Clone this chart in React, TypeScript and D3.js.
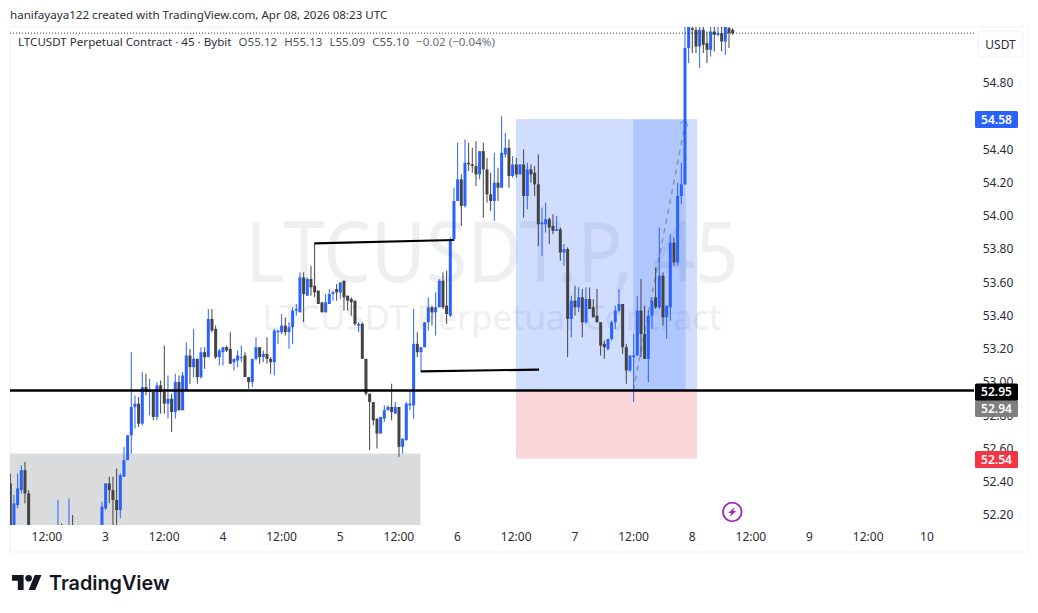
import { useRef, useEffect } from 'react'
import * as d3 from 'd3'

// 45 minute bars, one entry per bar
const opens = [
  52.39,52.08,52.26,52.35,52.47,52.33,52.10,52.02,52.05,51.99,
  52.03,52.00,52.06,52.04,52.10,52.05,52.08,52.11,52.04,52.00,
  52.05,52.02,51.98,52.03,52.07,52.05,52.24,52.39,52.35,52.29,
  52.23,52.43,52.53,52.68,52.85,52.87,52.75,52.97,52.94,52.94,
  52.79,52.98,52.94,52.87,52.90,52.82,53.00,52.83,52.95,53.16,
  53.09,53.14,53.03,53.18,53.15,53.38,53.32,53.15,53.18,53.21,
  53.20,53.12,53.13,53.15,53.16,53.03,53.00,53.14,53.21,53.15,
  53.17,53.14,53.12,53.30,53.30,53.34,53.30,53.33,53.43,53.42,
  53.63,53.52,53.62,53.58,53.55,53.48,53.42,53.47,53.53,53.56,
  53.54,53.61,53.52,53.50,53.49,53.34,53.35,53.14,52.93,52.88,
  52.78,52.69,52.78,52.83,52.85,52.81,52.85,52.61,52.65,52.86,
  52.86,53.23,53.18,53.21,53.36,53.45,53.42,53.45,53.61,53.46,
  53.40,53.86,54.09,54.22,54.06,54.32,54.31,54.30,54.25,54.39,
  54.28,54.13,54.09,54.20,54.17,54.37,54.41,54.24,54.31,54.25,
  54.31,54.12,54.28,54.26,54.19,53.95,53.95,53.98,53.94,53.91,
  53.92,53.78,53.80,53.38,53.49,53.45,53.51,53.36,53.50,53.45,
  53.40,53.36,53.23,53.20,53.26,53.36,53.43,53.47,53.21,53.07,
  53.15,53.16,53.43,53.29,53.14,53.40,53.51,53.45,53.64,53.39,
  53.45,53.84,53.72,54.12,54.19,55.01,55.13,55.12,55.02,55.12,
  55.04,55.00,55.11,55.09,55.10,55.05,55.13,55.12,
]
const highs = [
  52.45,52.32,52.45,52.50,52.52,52.35,52.12,52.08,52.10,52.06,
  52.09,52.10,52.12,52.29,52.15,52.11,52.30,52.20,52.09,52.08,
  52.11,52.07,52.05,52.10,52.12,52.28,52.39,52.43,52.43,52.48,
  52.45,52.61,52.68,53.18,52.92,52.91,53.06,53.05,53.02,52.95,
  53.00,53.01,53.22,53.04,52.93,53.05,53.04,53.06,53.24,53.20,
  53.32,53.14,53.21,53.21,53.44,53.44,53.34,53.20,53.21,53.22,
  53.30,53.14,53.19,53.22,53.18,53.03,53.14,53.27,53.21,53.19,
  53.27,53.15,53.32,53.31,53.41,53.39,53.36,53.45,53.47,53.66,
  53.66,53.63,53.70,53.84,53.55,53.48,53.53,53.56,53.55,53.59,
  53.60,53.61,53.52,53.51,53.49,53.36,53.36,53.14,52.93,52.88,
  52.78,52.79,52.86,52.86,52.99,52.88,52.85,52.66,52.88,52.95,
  53.44,53.30,53.21,53.36,53.51,53.46,53.54,53.62,53.66,53.67,
  53.87,54.17,54.44,54.25,54.46,54.44,54.41,54.45,54.39,54.44,
  54.35,54.26,54.38,54.29,54.60,54.50,54.46,54.36,54.35,54.31,
  54.40,54.32,54.31,54.30,54.37,54.05,54.08,53.99,54.01,54.00,
  53.93,53.83,53.81,53.52,53.58,53.57,53.56,53.57,53.57,53.50,
  53.56,53.36,53.25,53.26,53.37,53.46,53.56,53.47,53.23,53.16,
  53.29,53.52,53.62,53.46,53.43,53.51,53.69,53.93,53.66,53.46,
  53.89,53.87,54.20,54.32,55.14,55.16,55.16,55.16,55.15,55.14,
  55.11,55.14,55.14,55.14,55.14,55.15,55.14,55.13,
]
const lows = [
  52.02,52.02,52.24,52.33,52.27,52.00,51.98,51.95,51.96,51.92,
  51.97,51.94,52.00,52.00,52.00,52.00,52.03,51.98,51.96,51.95,
  52.00,51.94,51.92,51.99,52.02,52.03,52.23,52.27,52.13,52.12,
  52.18,52.43,52.53,52.57,52.72,52.73,52.74,52.92,52.80,52.77,
  52.77,52.81,52.81,52.78,52.70,52.78,52.83,52.83,52.95,52.99,
  53.03,52.99,53.02,53.08,53.15,53.30,53.14,53.10,53.10,53.18,
  53.11,53.07,53.09,53.12,53.03,52.96,52.97,53.13,53.11,53.12,
  53.11,53.05,53.04,53.23,53.29,53.28,53.20,53.23,53.40,53.42,
  53.36,53.52,53.52,53.51,53.47,53.42,53.42,53.47,53.49,53.49,
  53.50,53.43,53.43,53.40,53.34,53.30,53.14,52.92,52.59,52.74,
  52.60,52.69,52.76,52.83,52.77,52.81,52.55,52.57,52.65,52.83,
  52.78,53.15,53.06,53.21,53.31,53.34,53.28,53.45,53.44,53.35,
  53.39,53.85,54.09,53.94,54.05,54.27,54.26,54.18,54.22,53.99,
  54.08,54.03,53.97,54.09,54.17,54.35,54.17,54.23,54.23,54.25,
  53.99,54.04,54.20,54.12,53.82,53.76,53.90,53.83,53.89,53.91,
  53.73,53.70,53.15,53.27,53.40,53.42,53.27,53.35,53.44,53.39,
  53.36,53.16,53.14,53.19,53.25,53.32,53.42,53.17,52.99,53.06,
  52.88,53.16,53.15,53.14,53.00,53.32,53.44,53.44,53.34,53.26,
  53.37,53.70,53.70,54.07,54.19,54.92,54.98,54.98,54.89,54.98,
  54.92,54.96,54.99,55.08,54.99,54.97,55.01,55.09,
]
const closes = [
  52.08,52.27,52.36,52.47,52.33,52.10,52.02,52.05,51.99,52.03,
  52.00,52.06,52.04,52.10,52.05,52.08,52.11,52.04,52.00,52.05,
  52.02,51.98,52.03,52.07,52.05,52.25,52.39,52.35,52.29,52.23,
  52.44,52.53,52.68,52.85,52.87,52.75,52.97,52.94,52.95,52.79,
  52.98,52.94,52.87,52.90,52.82,53.00,52.83,53.04,53.16,53.09,
  53.14,53.03,53.18,53.15,53.38,53.31,53.15,53.19,53.21,53.19,
  53.11,53.14,53.16,53.15,53.03,53.00,53.14,53.21,53.15,53.17,
  53.14,53.12,53.31,53.31,53.34,53.30,53.33,53.43,53.44,53.63,
  53.53,53.62,53.57,53.54,53.47,53.42,53.48,53.53,53.54,53.54,
  53.60,53.51,53.49,53.48,53.35,53.35,53.14,52.93,52.88,52.77,
  52.69,52.79,52.83,52.85,52.82,52.85,52.61,52.66,52.87,52.87,
  53.23,53.18,53.21,53.36,53.45,53.42,53.45,53.61,53.45,53.41,
  53.86,54.09,54.22,54.06,54.32,54.31,54.30,54.25,54.39,54.28,
  54.13,54.09,54.20,54.17,54.38,54.41,54.24,54.31,54.25,54.31,
  54.12,54.28,54.25,54.19,53.95,53.96,53.98,53.93,53.91,53.92,
  53.78,53.80,53.38,53.49,53.45,53.51,53.36,53.50,53.44,53.39,
  53.36,53.22,53.21,53.26,53.36,53.43,53.47,53.21,53.07,53.16,
  53.16,53.43,53.29,53.14,53.40,53.49,53.45,53.64,53.39,53.46,
  53.84,53.72,54.12,54.19,55.01,55.14,55.12,55.02,55.12,55.03,
  55.00,55.11,55.09,55.10,55.05,55.14,55.10,55.10,
]

const priceTicks = [52.2, 52.4, 52.6, 52.8, 53.0, 53.2, 53.4, 53.6, 53.8, 54.0, 54.2, 54.4, 54.6, 54.8]
const timeTickBars = [10, 26, 42, 58, 74, 90, 106, 122, 138, 154, 170, 186, 202, 218, 234, 250]
const timeTickLabels = ['12:00', '3', '12:00', '4', '12:00', '5', '12:00', '6', '12:00', '7', '12:00', '8', '12:00', '9', '12:00', '10']

const LAST_PRICE = 55.1
const SUPPORT_PRICE = 52.95
const ZONE_TOP = 52.57
const ZONE_END_BAR = 111.9
const TREND_A = [[83, 53.835], [121, 53.855]]
const TREND_B = [[112, 53.065], [144.2, 53.075]]
const POSITION = { start: 137.9, end: 187.3, entry: 52.95, target: 54.58, stop: 52.54, fillStart: 169.9, fillEnd: 184.2 }
const PRICE_TAGS = [
  { label: '54.58', price: 54.58, bg: '#2962ff', shift: 0 },
  { label: '52.54', price: 52.54, bg: '#f23645', shift: 1 },
  { label: '52.94', price: 52.94, bg: '#808080', shift: 16.5 },
  { label: '52.95', price: 52.95, bg: '#000000', shift: 1.5 },
]

const W = 1038
const H = 613
const PANE = { left: 10, right: 974, top: 27, bottom: 525 }
const BLUE = '#2962ff'
const DARK = '#434343'
const TEXT = '#2a2e39'
const FONT = "'Noto Sans', sans-serif"

export default function App() {
  const svgRef = useRef<SVGSVGElement>(null)

  useEffect(() => {
    const svg = svgRef.current
    if (!svg) return
    const sel = d3.select(svg)
    sel.selectAll('*').remove()

    const x = d3.scaleLinear().domain([0, 197]).range([10.3, 10.3 + 197 * 3.6667])
    const y = d3.scaleLinear().domain([52.2, 54.8]).range([515, 83])

    sel.append('defs').append('clipPath').attr('id', 'pane-clip')
      .append('rect')
      .attr('x', PANE.left).attr('y', PANE.top)
      .attr('width', PANE.right - PANE.left).attr('height', PANE.bottom - PANE.top)

    // outer frame
    sel.append('rect')
      .attr('x', 10).attr('y', 27).attr('width', 1018).attr('height', 525)
      .attr('fill', '#fff').attr('stroke', '#f0f1f3').attr('stroke-width', 1)

    sel.append('text')
      .attr('x', 10).attr('y', 19)
      .attr('fill', TEXT).attr('font-size', 11.6).attr('font-family', FONT)
      .text('hanifayaya122 created with TradingView.com, Apr 08, 2026 08:23 UTC')

    // watermark
    sel.append('text')
      .attr('x', 492).attr('y', 282).attr('text-anchor', 'middle')
      .attr('textLength', 493).attr('lengthAdjust', 'spacingAndGlyphs')
      .attr('fill', '#eeeff1').attr('font-size', 84).attr('font-family', FONT)
      .text('LTCUSDT.P, 45')
    sel.append('text')
      .attr('x', 492).attr('y', 330).attr('text-anchor', 'middle')
      .attr('fill', '#eeeff1').attr('font-size', 34.5).attr('font-family', FONT)
      .text('LTCUSDT Perpetual Contract')

    const pane = sel.append('g').attr('clip-path', 'url(#pane-clip)')

    // demand zone
    pane.append('rect')
      .attr('x', PANE.left).attr('y', y(ZONE_TOP))
      .attr('width', x(ZONE_END_BAR) - PANE.left).attr('height', PANE.bottom - y(ZONE_TOP))
      .attr('fill', '#dadbdd')

    // long position tool
    const boxW = x(POSITION.end) - x(POSITION.start)
    pane.append('rect')
      .attr('x', x(POSITION.start)).attr('y', y(POSITION.target))
      .attr('width', boxW).attr('height', y(POSITION.entry) - y(POSITION.target))
      .attr('fill', BLUE).attr('fill-opacity', 0.22)
    pane.append('rect')
      .attr('x', x(POSITION.start)).attr('y', y(POSITION.entry))
      .attr('width', boxW).attr('height', y(POSITION.stop) - y(POSITION.entry))
      .attr('fill', '#f23645').attr('fill-opacity', 0.2)
    pane.append('rect')
      .attr('x', x(POSITION.fillStart)).attr('y', y(POSITION.target))
      .attr('width', x(POSITION.fillEnd) - x(POSITION.fillStart)).attr('height', y(POSITION.entry) - y(POSITION.target))
      .attr('fill', BLUE).attr('fill-opacity', 0.18)
    pane.append('line')
      .attr('x1', x(POSITION.start)).attr('x2', x(POSITION.end))
      .attr('y1', y(POSITION.target)).attr('y2', y(POSITION.target))
      .attr('stroke', BLUE).attr('stroke-opacity', 0.12)

    const px1 = x(POSITION.fillStart)
    const py1 = y(POSITION.entry)
    const px2 = x(POSITION.fillEnd)
    const py2 = y(POSITION.target - 0.01)
    pane.append('line')
      .attr('x1', px1).attr('y1', py1).attr('x2', px2).attr('y2', py2)
      .attr('stroke', '#8a8f9c').attr('stroke-width', 1.4).attr('stroke-dasharray', '5,5')
    pane.append('path')
      .attr('d', `M${px2 - 6},${py2 + 2}L${px2},${py2}L${px2 + 2},${py2 + 5}`)
      .attr('fill', 'none').attr('stroke', '#8a8f9c').attr('stroke-width', 1.2)

    // candles
    const bars = opens.map((o, i) => ({ i, o, h: highs[i], l: lows[i], c: closes[i] }))
    const candle = pane.append('g').selectAll('g').data(bars).join('g')
    candle.append('line')
      .attr('x1', (d) => x(d.i)).attr('x2', (d) => x(d.i))
      .attr('y1', (d) => y(d.h)).attr('y2', (d) => y(d.l))
      .attr('stroke', (d) => (d.c >= d.o ? BLUE : DARK)).attr('stroke-width', 1)
    candle.append('rect')
      .attr('x', (d) => x(d.i) - 1.5).attr('width', 3)
      .attr('y', (d) => y(Math.max(d.o, d.c)))
      .attr('height', (d) => Math.max(1, Math.abs(y(d.o) - y(d.c))))
      .attr('fill', (d) => (d.c >= d.o ? BLUE : DARK))

    // hand drawn levels
    pane.append('line')
      .attr('x1', PANE.left).attr('x2', PANE.right)
      .attr('y1', y(SUPPORT_PRICE)).attr('y2', y(SUPPORT_PRICE))
      .attr('stroke', '#000').attr('stroke-width', 2.5)
    const trend = d3.line<number[]>().x((d) => x(d[0])).y((d) => y(d[1]))
    pane.append('path').attr('d', trend(TREND_A)).attr('stroke', '#000').attr('stroke-width', 2.2).attr('fill', 'none')
    pane.append('path').attr('d', trend(TREND_B)).attr('stroke', '#000').attr('stroke-width', 2.2).attr('fill', 'none')

    // last price line
    pane.append('line')
      .attr('x1', PANE.left).attr('x2', PANE.right)
      .attr('y1', y(LAST_PRICE)).attr('y2', y(LAST_PRICE))
      .attr('stroke', '#333').attr('stroke-width', 1).attr('stroke-dasharray', '1,2')

    // header row
    const header = sel.append('text')
      .attr('x', 18).attr('y', 45.5)
      .attr('font-size', 11.6).attr('font-family', FONT).attr('fill', TEXT)
    header.append('tspan').text('LTCUSDT Perpetual Contract · 45 · Bybit')
    ;['O55.12', 'H55.13', 'L55.09', 'C55.10', '−0.02 (−0.04%)'].forEach((t, i) => {
      header.append('tspan')
        .attr('dx', 7)
        .attr('fill', i === 4 ? '#6a6d78' : '#50535e')
        .text(t)
    })

    // price axis
    const yAxis = d3.axisRight(y).tickValues(priceTicks).tickFormat((d) => d3.format('.2f')(d as number)).tickSize(0).tickPadding(0)
    const yG = sel.append('g').attr('transform', 'translate(998,0)').call(yAxis)
    yG.select('.domain').remove()
    yG.selectAll('.tick text')
      .attr('text-anchor', 'middle').attr('fill', TEXT).attr('font-size', 12).attr('font-family', FONT)

    // time axis
    const xAxis = d3.axisBottom(x).tickValues(timeTickBars).tickFormat((_, i) => timeTickLabels[i]).tickSize(0).tickPadding(0)
    const xG = sel.append('g').attr('transform', 'translate(-0.6,532.5)').call(xAxis)
    xG.select('.domain').remove()
    xG.selectAll('.tick text')
      .attr('fill', TEXT).attr('font-size', 12).attr('font-family', FONT)

    // currency button
    sel.append('rect')
      .attr('x', 978).attr('y', 31).attr('width', 45).attr('height', 26).attr('rx', 4)
      .attr('fill', '#fff').attr('stroke', '#f0f1f3')
    sel.append('text')
      .attr('x', 1000.5).attr('y', 48.5).attr('text-anchor', 'middle')
      .attr('fill', TEXT).attr('font-size', 12).attr('font-family', FONT)
      .text('USDT')

    // price tags
    PRICE_TAGS.forEach((t) => {
      const cy = y(t.price) + t.shift
      sel.append('rect')
        .attr('x', 975).attr('y', cy - 8.5).attr('width', 43).attr('height', 17).attr('rx', 1.5)
        .attr('fill', t.bg)
      sel.append('text')
        .attr('x', 996.5).attr('y', cy + 4.5).attr('text-anchor', 'middle')
        .attr('fill', '#fff').attr('font-size', 12).attr('font-weight', 600).attr('font-family', FONT)
        .text(t.label)
    })

    // event marker
    const ev = sel.append('g').attr('transform', `translate(${x(196.9)},512)`)
    ev.append('circle').attr('r', 9.3).attr('fill', '#fff').attr('stroke', '#9c27b0').attr('stroke-width', 1.8)
    ev.append('path')
      .attr('d', 'M2.5,-5L-4,1L-0.8,1L-2.5,5L4,-1L0.8,-1Z')
      .attr('fill', '#9c27b0')

    // logo
    const logo = sel.append('g').attr('transform', 'translate(12,571.7) scale(0.83)')
    logo.append('path').attr('d', 'M14 22H7V11H0V4h14v18zM28 22h-8l7.5-18h8L28 22z').attr('fill', '#131722')
    logo.append('circle').attr('cx', 20).attr('cy', 8).attr('r', 4).attr('fill', '#131722')
    sel.append('text')
      .attr('x', 49).attr('y', 590)
      .attr('fill', '#131722').attr('font-size', 19.8).attr('font-weight', 600).attr('font-family', 'Inter, sans-serif')
      .text('TradingView')
  }, [])

  return <svg ref={svgRef} width={W} height={H} style={{ position: 'fixed', left: 0, top: 0, background: '#fff' }} />
}
